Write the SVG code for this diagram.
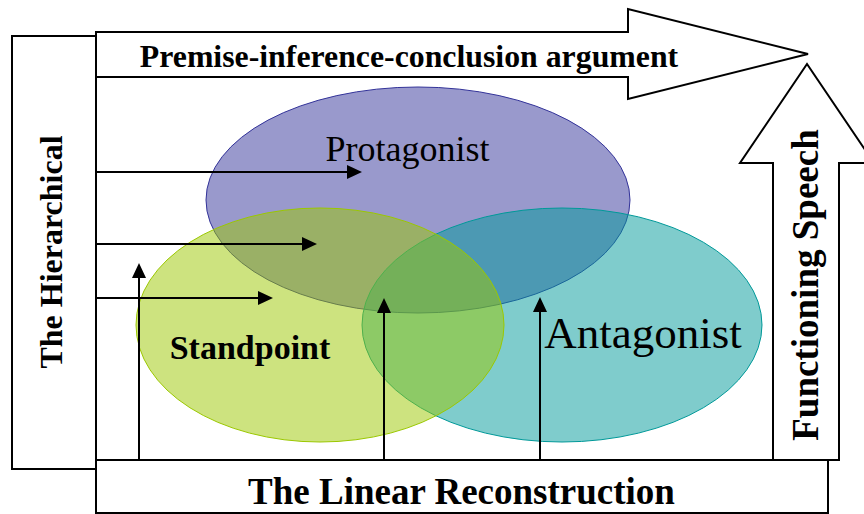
<svg xmlns="http://www.w3.org/2000/svg" width="864" height="514" viewBox="0 0 864 514">
  <defs>
    <marker id="ah" viewBox="0 0 15 14" refX="2" refY="7" markerWidth="15" markerHeight="14" markerUnits="userSpaceOnUse" orient="auto">
      <path d="M0,0 L15,7 L0,14 z" fill="#000"/>
    </marker>
    <style>
      .box { fill: #fff; stroke: #000; stroke-width: 2; }
      .lbl { font-family: "Liberation Serif", "Times New Roman", serif; fill: #000; }
      .b { font-weight: bold; }
      .conn line { stroke: #000; stroke-width: 2; marker-end: url(#ah); }
    </style>
  </defs>
  <rect width="864" height="514" fill="#fff"/>

  <g id="hierarchical">
    <rect class="box" x="12" y="36" width="84" height="433"/>
    <text class="lbl b" font-size="32" text-anchor="middle" transform="translate(62,252) rotate(-90)">The Hierarchical</text>
  </g>

  <g id="premise-arrow">
    <polygon class="box" points="96,32 628,32 628,9 808,54 628,99 628,77 96,77"/>
    <text class="lbl b" x="409" y="66.5" font-size="31.8" text-anchor="middle">Premise-inference-conclusion argument</text>
  </g>

  <g id="functioning-arrow">
    <polygon class="box" points="773,460 773,163 740,163 807,64 874,163 839,163 839,460"/>
    <text class="lbl b" font-size="37" text-anchor="middle" transform="translate(818,285) rotate(-90)">Functioning Speech</text>
  </g>

  <g id="linear">
    <rect class="box" x="96" y="460" width="732" height="53" stroke-width="1.5"/>
    <text class="lbl b" x="461.5" y="504" font-size="37" text-anchor="middle">The Linear Reconstruction</text>
  </g>

  <g id="protagonist">
    <ellipse cx="418" cy="200" rx="212" ry="113" fill="#333399" fill-opacity="0.5" stroke="#333399" stroke-width="1"/>
  </g>
  <g id="antagonist">
    <ellipse cx="562" cy="325" rx="200" ry="117" fill="#009999" fill-opacity="0.5" stroke="#009999" stroke-width="1"/>
  </g>
  <g id="standpoint">
    <ellipse cx="320" cy="325" rx="184" ry="117" fill="#9bc800" fill-opacity="0.5" stroke="#9bc800" stroke-width="1"/>
  </g>

  <g id="labels">
    <text class="lbl" x="407.5" y="161" font-size="36" text-anchor="middle">Protagonist</text>
    <text class="lbl b" x="250" y="359" font-size="34" text-anchor="middle">Standpoint</text>
    <text class="lbl" x="643" y="348" font-size="45" text-anchor="middle">Antagonist</text>
  </g>

  <g id="connectors" class="conn">
    <line x1="96" y1="172" x2="349" y2="172"/>
    <line x1="96" y1="244" x2="304" y2="244"/>
    <line x1="96" y1="298" x2="260" y2="298"/>
    <line x1="139" y1="460" x2="139" y2="276"/>
    <line x1="384" y1="460" x2="384" y2="311"/>
    <line x1="540" y1="460" x2="540" y2="310"/>
  </g>
</svg>
